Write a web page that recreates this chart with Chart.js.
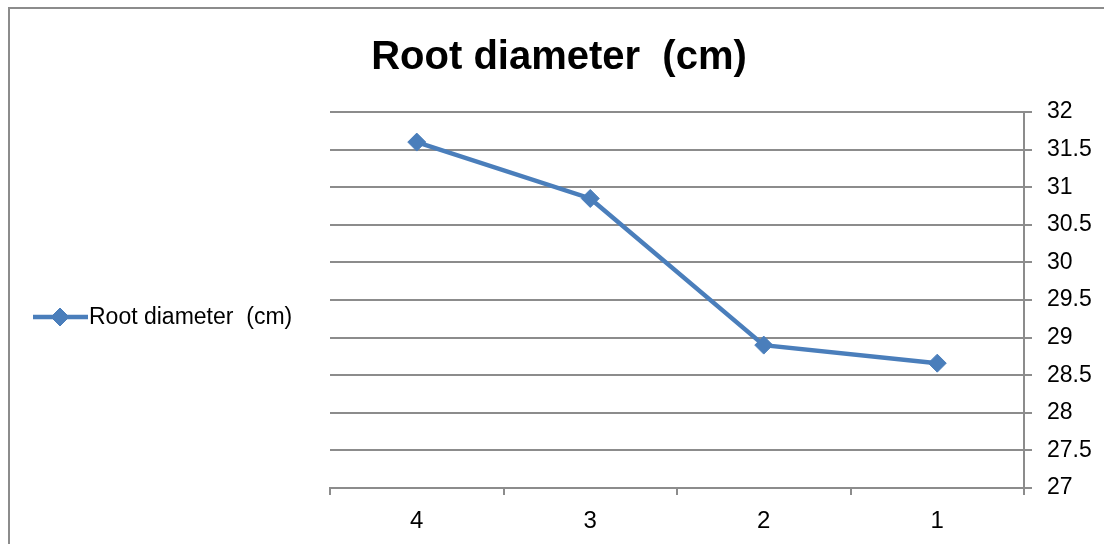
<!DOCTYPE html>
<html>
<head>
<meta charset="utf-8">
<script src="https://cdn.jsdelivr.net/npm/chart.js@4.4.1/dist/chart.umd.min.js"></script>
<style>
  html, body { margin: 0; padding: 0; background: #ffffff; }
  #wrap { width: 1104px; height: 544px; position: relative; }
</style>
</head>
<body>
<div id="wrap"><canvas id="c" width="1104" height="544"></canvas></div>
<script>
// ---- data ----
const categories = ['4', '3', '2', '1'];
const rootDiameter = [31.6, 30.85, 28.9, 28.66];
const seriesLabel = 'Root diameter  (cm)';
const chartTitle = 'Root diameter  (cm)';
const yMin = 27;
const yMax = 32;
const yStep = 0.5;

const LINE_BLUE = '#4a7ebb';
const GRID_GRAY = '#8c8c8c';
const FONT = "'Liberation Sans', Arial, sans-serif";
const NARROW = "'Liberation Sans Narrow', 'Liberation Sans', Arial, sans-serif";

// outer frame (top + left edges visible in the reference)
const framePlugin = {
  id: 'frame',
  beforeDraw(chart) {
    const ctx = chart.ctx;
    ctx.save();
    ctx.strokeStyle = GRID_GRAY;
    ctx.lineWidth = 2;
    ctx.beginPath();
    ctx.moveTo(9, 544);
    ctx.lineTo(9, 8);
    ctx.lineTo(1104, 8);
    ctx.stroke();
    ctx.restore();
  }
};

// legend as a layout box on the left: line + diamond + label
const sideLegendPlugin = {
  id: 'sideLegend',
  beforeInit(chart) {
    const box = {
      position: 'left',
      weight: 100,
      fullSize: false,
      options: {},
      left: 0, top: 0, right: 0, bottom: 0, width: 0, height: 0,
      isHorizontal() { return false; },
      update(maxWidth, maxHeight) { this.width = 316; this.height = maxHeight; },
      getPadding() { return { left: 0, right: 0, top: 0, bottom: 0 }; },
      draw() {
        const ds = chart.data.datasets[0];
        const ctx = chart.ctx;
        const y = 317;
        ctx.save();
        ctx.strokeStyle = ds.borderColor;
        ctx.lineWidth = ds.borderWidth;
        ctx.beginPath();
        ctx.moveTo(33, y);
        ctx.lineTo(88, y);
        ctx.stroke();
        ctx.fillStyle = ds.pointBackgroundColor;
        ctx.strokeStyle = ds.pointBorderColor;
        ctx.lineWidth = 1;
        Chart.helpers.drawPoint(ctx, {
          pointStyle: ds.pointStyle,
          radius: ds.pointRadius,
          borderWidth: 1
        }, 60, y);
        ctx.fillStyle = '#000000';
        ctx.font = "23px " + FONT;
        ctx.textBaseline = 'middle';
        ctx.textAlign = 'left';
        ctx.fillText(ds.label, 89, y + 1);
        ctx.restore();
      }
    };
    Chart.layouts.addBox(chart, box);
  }
};

new Chart(document.getElementById('c'), {
  type: 'line',
  data: {
    labels: categories,
    datasets: [{
      label: seriesLabel,
      data: rootDiameter,
      borderColor: LINE_BLUE,
      backgroundColor: LINE_BLUE,
      pointBackgroundColor: LINE_BLUE,
      pointBorderColor: LINE_BLUE,
      borderWidth: 4.5,
      pointStyle: 'rectRot',
      pointRadius: 9,
      pointBorderWidth: 1,
      tension: 0,
      fill: false
    }]
  },
  options: {
    responsive: false,
    devicePixelRatio: 1,
    animation: false,
    layout: { padding: { left: 14, right: 0, top: 0, bottom: 0 } },
    plugins: {
      legend: { display: false },
      tooltip: { enabled: false },
      title: {
        display: true,
        text: chartTitle,
        color: '#000000',
        font: { family: FONT, size: 40, weight: 'bold', lineHeight: 1.2 },
        padding: { top: 34, bottom: 30 }
      }
    },
    scales: {
      x: {
        type: 'category',
        offset: true,
        grid: {
          offset: true,
          drawOnChartArea: false,
          drawTicks: true,
          tickLength: 7,
          color: GRID_GRAY,
          lineWidth: 2
        },
        border: { display: true, color: GRID_GRAY, width: 2 },
        ticks: {
          color: '#000000',
          font: { family: NARROW, size: 24 },
          padding: 12,
          maxRotation: 0
        },
        afterFit(scale) { scale.height = 56; }
      },
      y: {
        position: 'right',
        min: yMin,
        max: yMax,
        ticks: {
          stepSize: yStep,
          color: '#000000',
          font: { family: FONT, size: 23 },
          padding: 15,
          callback: (v) => String(v)
        },
        grid: {
          color: GRID_GRAY,
          lineWidth: 2,
          drawTicks: true,
          tickLength: 8
        },
        border: { display: true, color: GRID_GRAY, width: 2 },
        afterFit(scale) { scale.width = 80; }
      }
    }
  },
  plugins: [framePlugin, sideLegendPlugin]
});
</script>
</body>
</html>
